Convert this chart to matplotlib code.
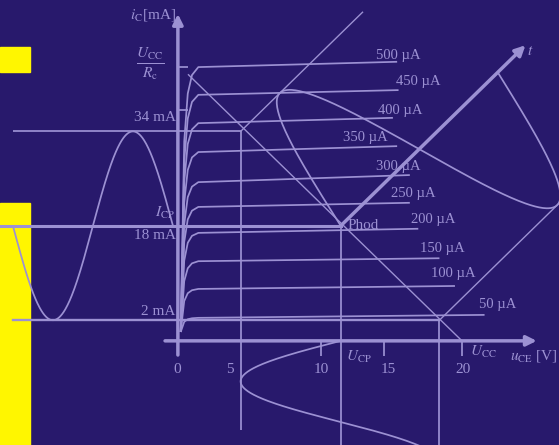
import numpy as np
import matplotlib.pyplot as plt
from matplotlib.patches import Rectangle

BG = "#28196c"
FG = "#9c91d3"
YELLOW = "#fff600"

plt.rcParams["mathtext.fontset"] = "stix"
SERIF = "Liberation Serif"

# drawing scale: pixels per volt / per milliampere, origin of the u-i plane
PX_PER_V = 14.1
PX_PER_MA = 5.9
X0_PX, Y0_PX = 180, 332
W_PX, H_PX = 559, 445

# where the two axes are drawn
AXIS_U = -0.15
AXIS_I = -1.5

# supply and operating point
U_CC = 20.0
I_SAT = 43.6          # load line start current (U_CC / R_c)
U_CP, I_CP = 11.4, 18.0
U_MIN, I_MAX = 4.3, 34.0
U_MAX, I_MIN = 18.4, 2.0

# output characteristics i_C(u_CE) for each base current
IB_UA = [500, 450, 400, 350, 300, 250, 200, 150, 100, 50]
IC_START = [44.9, 40.2, 35.4, 30.5, 25.4, 21.2, 16.8, 12.0, 7.3, 2.4]
IC_END = [45.8, 41.0, 36.3, 31.5, 26.6, 21.9, 17.5, 12.5, 7.8, 2.9]
U_END = [15.4, 15.5, 15.1, 15.4, 16.3, 16.3, 16.9, 18.4, 19.5, 21.6]
KNEE_U = [0.05, 0.3, 0.55, 0.85, 1.3]
KNEE_FRAC = [0.0, 0.72, 0.9, 0.97, 1.0]
LABEL_U = [15.46, 16.88, 15.6, 13.12, 15.46, 16.53, 17.94, 18.58, 19.36, 22.55]
LABEL_I = [46.8, 42.5, 37.6, 32.9, 28.1, 23.4, 19.0, 14.1, 10.0, 4.6]

# x axis ticks
XTICK_LABELS = ["0", "5", "10", "15", "20"]
XTICK_U = [-0.2, 3.55, 10.0, 14.75, 20.07]
XTICK_MARKS = [10.0, 14.47, 20.0]

# time scales of the three waveforms (in drawing units)
LEFT_PERIOD = 11.35      # V-units, i_C(t) drawn to the left
BOTTOM_PERIOD = 27.5     # mA-units, u_CE(t) drawn downwards
T_TIP = (24.5, 48.6)     # end of the rotated time axis
T_PERIOD = 0.85          # fraction of the time axis length

fig = plt.figure(figsize=(W_PX / 100, H_PX / 100), dpi=100, facecolor=BG)
ax = fig.add_axes([0, 0, 1, 1])
ax.set_xlim(-X0_PX / PX_PER_V, (W_PX - X0_PX) / PX_PER_V)
ax.set_ylim((Y0_PX - H_PX) / PX_PER_MA, Y0_PX / PX_PER_MA)
ax.axis("off")

# yellow slide blocks on the left edge
ax.add_patch(Rectangle((0, 1 - 72 / H_PX), 30 / W_PX, 25 / H_PX,
                       transform=ax.transAxes, color=YELLOW, zorder=0.5))
ax.add_patch(Rectangle((0, 0), 30 / W_PX, 1 - 203 / H_PX,
                       transform=ax.transAxes, color=YELLOW, zorder=0.5))

line_kw = dict(color=FG, lw=1.25, solid_capstyle="butt")

# characteristics
for ib, i0, i1, ue, lu, li in zip(IB_UA, IC_START, IC_END, U_END,
                                  LABEL_U, LABEL_I):
    u = np.r_[KNEE_U, ue]
    i = np.r_[np.array(KNEE_FRAC) * i0, i1]
    ax.plot(u, i, **line_kw)
    ax.text(lu, li, f"{ib} µA", color=FG, fontsize=10.5, family=SERIF,
            ha="center", va="center")

# load line
ax.plot([0.6, U_CC], [I_SAT, AXIS_I], color=FG, lw=1.0)

# projections of the operating extremes
tvec = np.array(T_TIP) - np.array([U_CP, I_CP])
for pu, pi in [(U_MIN, I_MAX), (U_MAX, I_MIN)]:
    ax.plot([pu, pu + 0.66 * tvec[0]], [pi, pi + 0.66 * tvec[1]],
            color=FG, lw=1.0)

# horizontal guide lines
left_end = -0.5 - LEFT_PERIOD
ax.plot([left_end, U_MIN], [I_MAX, I_MAX], **line_kw)
ax.plot([ax.get_xlim()[0], U_CP], [I_CP, I_CP], color=FG, lw=2.2)
ax.plot([left_end, U_MAX], [I_MIN, I_MIN], color=FG, lw=1.7)

# vertical guide lines
ybot = ax.get_ylim()[0]
ax.plot([U_MIN, U_MIN], [I_MAX, -16.6], **line_kw)
ax.plot([U_CP, U_CP], [I_CP, ybot], **line_kw)
ax.plot([U_MAX, U_MAX], [I_MIN, ybot], **line_kw)

# i_C(t) to the left of the axis
s = np.linspace(0, 1, 300)
w = np.sin(2 * np.pi * s)
i_t = I_CP + np.where(w >= 0, w * (I_MAX - I_CP), w * (I_CP - I_MIN))
ax.plot(-0.5 - s * LEFT_PERIOD, i_t, **line_kw)

# u_CE(t) below the axis
s = np.linspace(0, 0.8, 300)
w = np.sin(2 * np.pi * s)
u_t = U_CP - np.where(w >= 0, w * (U_CP - U_MIN), -w * (U_CP - U_MAX))
ax.plot(u_t, AXIS_I - s * BOTTOM_PERIOD, **line_kw)

# waveform along the rotated time axis
p0 = np.array([U_CP, I_CP])
up = np.array([U_MIN, I_MAX]) - p0
lo = np.array([U_MAX, I_MIN]) - p0
s = np.linspace(0, T_PERIOD, 300)
w = np.sin(2 * np.pi * s / T_PERIOD)
pts = (p0[None, :] + s[:, None] * tvec[None, :]
       + np.where(w[:, None] >= 0, w[:, None] * up, -w[:, None] * lo))
ax.plot(pts[:, 0], pts[:, 1], **line_kw)

arrow = dict(arrowstyle="-|>", color=FG, lw=2.5, mutation_scale=15,
             shrinkA=0, shrinkB=0)
ax.annotate("", xy=T_TIP, xytext=(U_CP, I_CP), arrowprops=arrow)
ax.annotate("", xy=(AXIS_U, 53.9), xytext=(AXIS_U, -3.9), arrowprops=arrow)
ax.annotate("", xy=(25.3, AXIS_I), xytext=(-1.06, AXIS_I), arrowprops=arrow)

# axis ticks
for tu in XTICK_MARKS:
    ax.plot([tu, tu], [AXIS_I, -4.1], **line_kw)
for ti in [44.9, 37.6]:
    ax.plot([AXIS_U, 0.6], [ti, ti], **line_kw)
for lab, tu in zip(XTICK_LABELS, XTICK_U):
    ax.text(tu, -6.3, lab, color=FG, fontsize=11, family=SERIF,
            ha="center", va="center")

txt = dict(color=FG, fontsize=11, family=SERIF)
ax.text(-0.28, 53.7, r"$i_{\rm C}$[mA]", ha="right", va="center", **txt)
ax.text(-2.1, 45.4, r"$\frac{U_{\rm CC}}{R_{\rm c}}$", ha="center",
        va="center", color=FG, fontsize=16)
ax.text(-0.3, 36.3, "34 mA", ha="right", va="center", **txt)
ax.text(-0.35, 20.2, r"$I_{\rm CP}$", ha="right", va="center", **txt)
ax.text(-0.3, 16.4, "18 mA", ha="right", va="center", **txt)
ax.text(-0.3, 3.4, "2 mA", ha="right", va="center", **txt)
ax.text(11.9, 18.0, "Phod", ha="left", va="center", **txt)
ax.text(24.6, 47.5, r"$t$", ha="left", va="center", **txt)
ax.text(11.77, -4.2, r"$U_{\rm CP}$", ha="left", va="center", **txt)
ax.text(20.57, -3.4, r"$U_{\rm CC}$", ha="left", va="center", **txt)
ax.text(23.4, -4.1, r"$u_{\rm CE}$ [V]", ha="left", va="center", **txt)

fig.savefig("out.png", dpi=100, facecolor=BG)
